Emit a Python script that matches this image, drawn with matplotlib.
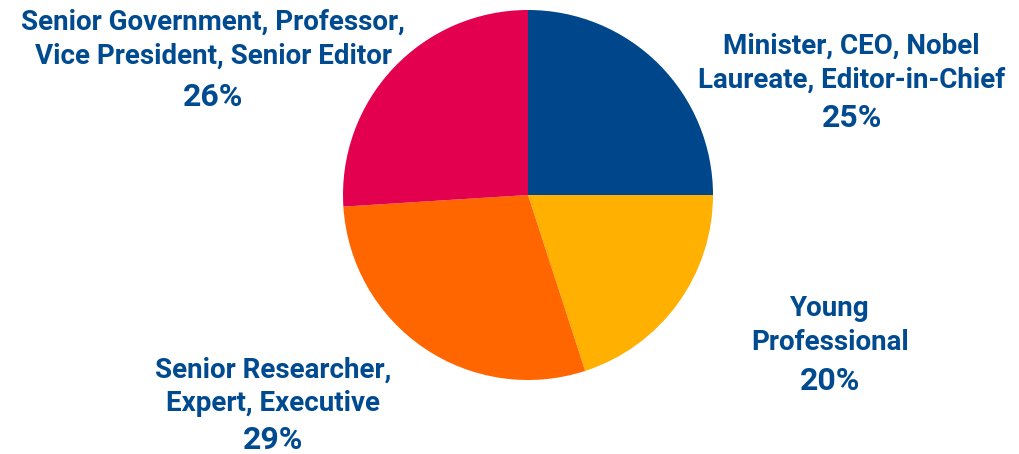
import matplotlib
matplotlib.use("Agg")
import matplotlib.pyplot as plt

groups = [
    "Minister, CEO, Nobel\nLaureate, Editor-in-Chief",
    "Young\nProfessional",
    "Senior Researcher,\nExpert, Executive",
    "Senior Government, Professor,\nVice President, Senior Editor",
]
shares = [25, 20, 29, 26]
colors = ["#00468b", "#ffb000", "#ff6600", "#e3004f"]

# (x, name y, percent y) in figure fraction for each slice label
label_pos = [(0.835, 0.860, 0.740), (0.814, 0.283, 0.161),
             (0.268, 0.148, 0.031), (0.209, 0.913, 0.786)]

txt_color = "#004a8f"
font = ["Roboto", "DejaVu Sans"]

fig = plt.figure(figsize=(10.2, 4.54), dpi=100)
ax = fig.add_axes([343 / 1020, 74 / 454, 370 / 1020, 370 / 454])
ax.pie(shares, colors=colors, startangle=90, counterclock=False,
       wedgeprops=dict(linewidth=0))
ax.set_xlim(-1, 1)
ax.set_ylim(-1, 1)
ax.axis("off")

for name, val, (x, yn, yp) in zip(groups, shares, label_pos):
    fig.text(x, yn, name, ha="center", va="center", color=txt_color,
             fontsize=20, fontweight="bold", family=font, linespacing=1.34)
    fig.text(x, yp, f"{val}%", ha="center", va="center", color=txt_color,
             fontsize=23, fontweight="bold", family=font)

fig.savefig("out.png", dpi=100)
